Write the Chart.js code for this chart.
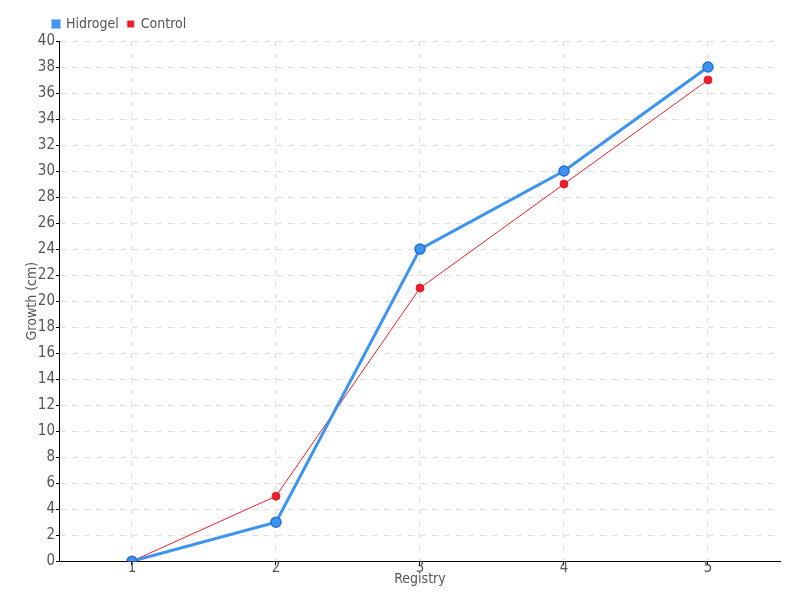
<!DOCTYPE html>
<html>
<head>
<meta charset="utf-8">
<script src="https://cdn.jsdelivr.net/npm/chart.js@4"></script>
<style>
  html, body { margin: 0; padding: 0; background: #fff; }
  #wrap { width: 800px; height: 600px; }
</style>
</head>
<body>
<div id="wrap"><canvas id="growthChart"></canvas></div>
<script>
// chart data
const registry = ['1', '2', '3', '4', '5'];
const hidrogel = [0, 3, 24, 30, 38];
const control = [0, 5, 21, 29, 37];

const FONT = "'Liberation Sans Narrow', 'DejaVu Sans Condensed', sans-serif";
Chart.defaults.font.family = FONT;
Chart.defaults.color = '#555';

// nudge legend to the right, like the original
const legendShift = {
    id: 'legendShift',
    afterUpdate(chart) {
        const lg = chart.legend;
        if (!lg) return;
        lg.left += 20;
        lg.right += 20;
        lg.adjustHitBoxes();
    }
};

const ctx = document.getElementById('growthChart');
new Chart(ctx, {
    type: 'line',
    data: {
        labels: registry,
        datasets: [{
            label: 'Hidrogel',
            data: hidrogel,
            borderColor: '#3d94f0',
            backgroundColor: '#3d94f0',
            borderWidth: 3,
            pointRadius: 5,
            pointBorderWidth: 1.5,
            pointBorderColor: '#2a6fd0',
            pointBackgroundColor: '#3d94f0',
            tension: 0
        }, {
            label: 'Control',
            data: control,
            borderColor: '#e8202e',
            backgroundColor: '#e8202e',
            borderWidth: 1,
            pointRadius: 4,
            pointBorderWidth: 1,
            pointBackgroundColor: '#e8202e',
            tension: 0
        }]
    },
    options: {
        responsive: true,
        maintainAspectRatio: false,
        animation: false,
        layout: { padding: { left: 24, right: 20, top: 8, bottom: 12 } },
        plugins: {
            legend: {
                display: true,
                position: 'top',
                align: 'start',
                labels: {
                    boxWidth: 6,
                    boxHeight: 6,
                    padding: 9,
                    font: { size: 14 },
                    color: '#555'
                }
            },
            tooltip: { enabled: false }
        },
        scales: {
            x: {
                offset: true,
                title: { display: true, text: 'Registry', font: { size: 14 }, padding: { top: 0, bottom: 0 }, color: '#555' },
                grid: { color: '#e0e0e0', tickColor: '#000', tickLength: 4, offset: false },
                border: { color: '#000', width: 1, dash: [6, 6] },
                ticks: { font: { size: 15 }, padding: -6 }
            },
            y: {
                min: 0,
                max: 40,
                title: { display: true, text: 'Growth (cm)', font: { size: 14 }, padding: { top: 0, bottom: -4 }, color: '#555' },
                grid: { color: '#e0e0e0', tickColor: '#000', tickLength: 4 },
                border: { color: '#000', width: 1, dash: [6, 6] },
                ticks: { stepSize: 2, font: { size: 15 }, padding: 1 }
            }
        }
    },
    plugins: [legendShift]
});
</script>
</body>
</html>
